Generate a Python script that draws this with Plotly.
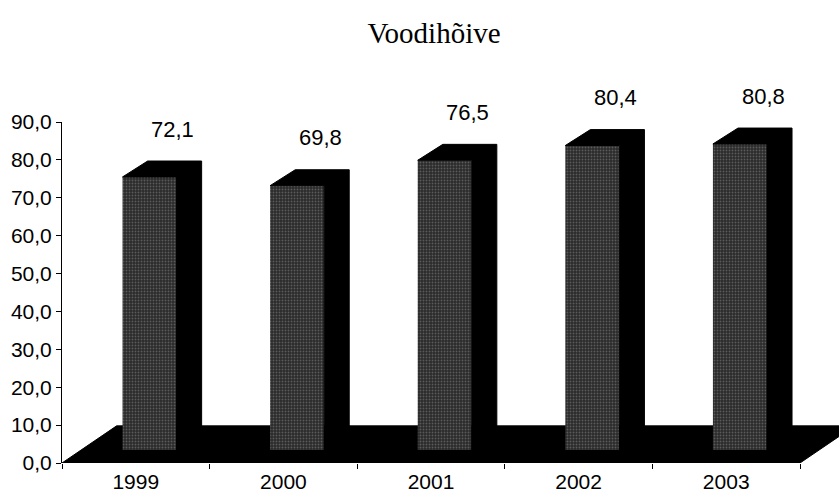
import plotly.graph_objects as go

# ---- data ----
years = ["1999", "2000", "2001", "2002", "2003"]
values = [72.1, 69.8, 76.5, 80.4, 80.8]
y_ticks = [0, 10, 20, 30, 40, 50, 60, 70, 80, 90]
title_text = "Voodihõive"

# ---- pseudo-3D geometry (in axis units) ----
BASE = 3.4      # bar base above floor front edge
FL = -0.09      # front face left offset from category centre
W = 0.366       # front face width
DX, DY = 0.17, 4.2   # bar depth offset
FX, FY = 0.37, 9.8   # floor depth offset
LBL_DX = 0.25

FONT = "Arial, Liberation Sans, sans-serif"
xs = list(range(len(years)))
fig = go.Figure()

# floor
x0, x1 = -0.5, len(years) - 0.5
fig.add_trace(go.Scatter(
    x=[x0, x1, x1 + FX, x0 + FX, x0], y=[0, 0, FY, FY, 0],
    mode="lines", fill="toself", fillcolor="black",
    line=dict(color="black", width=1), hoverinfo="skip", showlegend=False))

annotations = []
for i, v in zip(xs, values):
    L = i + FL
    R = L + W
    T = BASE + v
    # front face
    fig.add_trace(go.Scatter(
        x=[L, R, R, L, L], y=[BASE, BASE, T, T, BASE],
        mode="lines", fill="toself", fillcolor="#333333",
        fillpattern=dict(shape=".", bgcolor="#2a2a2a", fgcolor="#8c8c8c",
                         size=3, solidity=0.3),
        line=dict(color="#2a2a2a", width=0), hoverinfo="skip", showlegend=False))
    # top + right side (black)
    fig.add_trace(go.Scatter(
        x=[L, L + DX, R + DX, R + DX, R, R, L],
        y=[T, T + DY, T + DY, BASE + DY, BASE, T, T],
        mode="lines", fill="toself", fillcolor="black",
        line=dict(color="black", width=1), hoverinfo="skip", showlegend=False))
    # value label above the bar
    annotations.append(dict(
        x=i + LBL_DX, y=T + DY, xref="x", yref="y",
        text=f"{v:.1f}".replace(".", ","), showarrow=False,
        yanchor="middle", xanchor="center", yshift=32,
        font=dict(family=FONT, size=22, color="black")))

fig.update_layout(
    width=839, height=497,
    margin=dict(l=62, r=0, t=122, b=34, autoexpand=False),
    paper_bgcolor="white", plot_bgcolor="white",
    separators=", ",
    annotations=annotations,
    title=dict(text=title_text, x=434 / 839, xref="container", xanchor="center",
               y=1 - 33 / 497, yref="container", yanchor="middle",
               font=dict(family="Liberation Serif, Times New Roman, serif", size=29, color="black")),
    xaxis=dict(range=[-0.5, 4.5 + 39 / 147.6], showgrid=False, zeroline=False, showline=False,
               tickvals=xs, ticktext=years, ticks="", automargin=False, ticklabelstandoff=4,
               tickfont=dict(family=FONT, size=21, color="black"),
               minor=dict(tickvals=[k - 0.5 for k in range(len(years) + 1)], ticks="outside",
                          ticklen=5, tickcolor="black", showgrid=False)),
    yaxis=dict(range=[0, 90], showgrid=False, zeroline=False, showline=True, automargin=False,
               linecolor="black", linewidth=1, ticks="outside", ticklen=5, tickcolor="black",
               tickvals=y_ticks, tickformat=".1f",
               tickfont=dict(family=FONT, size=21, color="black")),
)

fig.write_html("out.html", config={"displayModeBar": False},
               post_script="document.body.style.margin='0';document.body.style.overflow='hidden';")
